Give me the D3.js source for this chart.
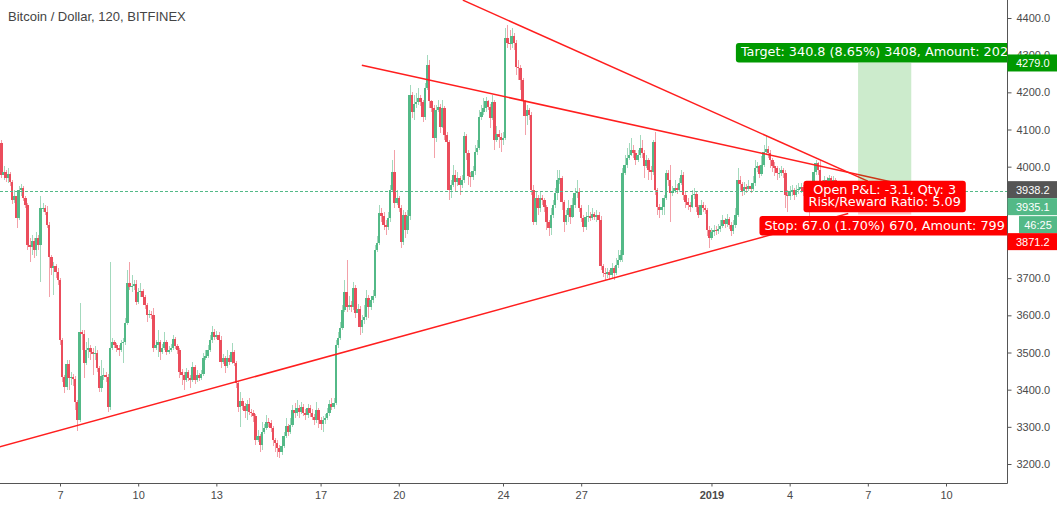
<!DOCTYPE html>
<html>
<head>
<meta charset="utf-8">
<script src="https://cdn.jsdelivr.net/npm/d3@7"></script>
<style>
  body { margin: 0; background: #fff; }
  svg { display: block; }
</style>
</head>
<body>
<div id="chart"></div>
<script>
// 2h candles, BTC/USD Bitfinex, Dec 4 2018 18:00 -> Jan 6 2019 14:00
const firstBar = Date.UTC(2018, 11, 4, 18)
const barMs = 2 * 3600 * 1000
const firstOpen = 4064

const closes = [
  3978,3986,3969,3980,3959,3910,3921,3862,3937,3943,
  3916,3897,3789,3784,3800,3776,3808,3789,3889,3889,
  3878,3843,3757,3727,3733,3717,3695,3534,3434,3407,
  3469,3431,3434,3429,3367,3318,3555,3550,3472,3507,
  3512,3501,3496,3499,3458,3405,3437,3440,3434,3353,
  3512,3528,3520,3512,3507,3525,3528,3579,3687,3676,
  3679,3684,3636,3663,3665,3649,3628,3601,3604,3601,
  3512,3520,3528,3501,3512,3528,3501,3507,3512,3536,
  3518,3507,3448,3440,3426,3448,3431,3426,3461,3426,
  3440,3431,3442,3485,3491,3507,3534,3555,3542,3547,
  3534,3474,3485,3464,3485,3474,3501,3472,3418,3353,
  3370,3356,3343,3361,3340,3337,3329,3265,3275,3251,
  3286,3297,3313,3310,3297,3265,3256,3243,3232,3248,
  3275,3302,3286,3305,3345,3337,3351,3340,3353,3337,
  3332,3351,3337,3326,3318,3345,3318,3308,3318,3324,
  3337,3361,3353,3364,3520,3539,3566,3614,3663,3622,
  3628,3622,3673,3606,3617,3569,3587,3596,3647,3622,
  3641,3652,3776,3795,3875,3867,3843,3838,3862,3937,
  3986,3902,3916,3889,3797,3870,3830,3867,4193,4147,
  4169,4174,4185,4174,4134,4212,4274,4177,4158,4077,
  4152,4161,4107,4158,4085,4066,3937,3951,3978,3959,
  3969,3951,3964,4082,4037,3975,3972,3988,4039,4050,
  4134,4147,4158,4177,4161,4131,4174,4072,4088,4080,
  4072,4077,4346,4333,4330,4352,4333,4268,4265,4233,
  4177,4136,4152,4139,3937,3851,3916,3889,3916,3910,
  3892,3851,3835,3870,3897,3929,3964,3969,3905,3851,
  3870,3889,3865,3897,3929,3932,3889,3862,3838,3865,
  3867,3862,3873,3865,3870,3857,3733,3714,3711,3717,
  3709,3727,3714,3735,3749,3762,3983,4004,4023,4031,
  4045,4037,4018,4031,4050,4037,4002,4018,3991,3986,
  4066,3937,3892,3883,3892,3916,3983,3964,3929,3935,
  3943,3937,3956,3978,3924,3905,3897,3892,3924,3927,
  3892,3870,3897,3889,3883,3830,3808,3824,3830,3827,
  3832,3840,3857,3846,3859,3843,3827,3843,3870,3964,
  3953,3935,3945,3940,3948,3940,3956,3996,4002,3980,
  4004,4039,4048,4037,4018,4002,3996,3983,3983,3991,
  3983,3924,3921,3935,3937,3924,3937,3940,3945,3932,
  3937,3918,3883,3924,3986,4010,3991,3956,3948,3964,
  3959,3969,3956,3964,3948,3937,3910,3924,3902,3921,
  3910,3897,3916,3929,3935.1
]

const highs = [
  4072,4002,3991,3996,3986,3964,3937,3929,3948,3953,
  3948,3921,3902,3808,3816,3808,3824,3816,3921,3902,
  3897,3894,3851,3762,3743,3738,3727,3700,3539,3440,
  3480,3480,3448,3442,3437,3372,3633,3561,3561,3528,
  3539,3520,3512,3518,3507,3464,3480,3458,3448,3442,
  3743,3539,3534,3525,3520,3534,3539,3593,3722,3743,
  3709,3695,3695,3673,3687,3671,3655,3633,3614,3612,
  3620,3534,3561,3534,3523,3555,3534,3518,3523,3547,
  3542,3523,3512,3456,3448,3458,3453,3440,3474,3466,
  3453,3445,3453,3499,3507,3520,3547,3572,3564,3558,
  3555,3544,3496,3491,3507,3493,3525,3507,3477,3423,
  3394,3378,3364,3372,3378,3348,3345,3335,3291,3281,
  3313,3308,3332,3324,3318,3302,3270,3265,3251,3259,
  3286,3324,3308,3324,3359,3364,3372,3359,3367,3361,
  3348,3361,3359,3348,3335,3367,3351,3326,3329,3335,
  3351,3372,3378,3378,3534,3555,3582,3628,3695,3749,
  3652,3639,3690,3682,3630,3625,3601,3628,3668,3655,
  3652,3668,3789,3813,3897,3889,3878,3857,3878,3951,
  4018,4045,3937,3921,3897,3883,3878,3883,4220,4201,
  4193,4198,4212,4193,4179,4225,4300,4287,4179,4166,
  4166,4179,4169,4179,4163,4093,4072,3964,4004,3991,
  3986,3975,3978,4093,4088,4045,3986,4002,4058,4072,
  4152,4166,4185,4187,4179,4169,4193,4179,4109,4099,
  4091,4093,4373,4381,4368,4373,4360,4341,4287,4274,
  4239,4179,4166,4158,4147,3951,3932,3924,3932,3924,
  3916,3897,3857,3889,3910,3943,3991,3991,3975,3910,
  3883,3910,3897,3916,3943,3964,3943,3897,3870,3878,
  3897,3878,3889,3878,3883,3878,3867,3738,3727,3727,
  3722,3741,3733,3754,3776,3776,3996,4031,4050,4064,
  4077,4058,4045,4045,4085,4072,4045,4031,4023,4002,
  4072,4093,3943,3900,3902,3924,3991,3991,4004,3948,
  3964,3953,3969,3991,3986,3932,3916,3905,3937,3943,
  3932,3897,3910,3905,3897,3889,3840,3835,3843,3840,
  3846,3857,3870,3862,3873,3865,3851,3857,3889,3996,
  3975,3959,3959,3953,3964,3953,3975,4018,4012,4004,
  4029,4058,4085,4056,4045,4023,4012,4002,3996,4002,
  3996,3991,3937,3948,3951,3943,3951,3956,3956,3951,
  3948,3943,3927,3937,4002,4018,4012,4018,3964,3975,
  3972,3978,3975,3975,3969,3953,3943,3937,3929,3932,
  3927,3916,3927,3943,3943
]

const lows = [
  3969,3964,3959,3956,3948,3900,3902,3835,3857,3921,
  3908,3889,3776,3743,3762,3754,3760,3776,3690,3878,
  3870,3835,3649,3709,3655,3700,3682,3520,3421,3391,
  3399,3399,3413,3410,3345,3289,3313,3507,3431,3466,
  3485,3480,3440,3480,3448,3394,3394,3426,3421,3340,
  3345,3507,3512,3501,3491,3501,3472,3520,3574,3668,
  3663,3668,3628,3630,3649,3641,3617,3582,3593,3590,
  3501,3507,3488,3480,3496,3507,3493,3496,3501,3507,
  3509,3496,3431,3413,3399,3421,3423,3405,3421,3415,
  3421,3423,3426,3437,3480,3485,3501,3525,3534,3536,
  3525,3458,3469,3445,3458,3466,3469,3464,3405,3340,
  3299,3345,3324,3318,3332,3326,3313,3251,3259,3232,
  3238,3281,3291,3299,3286,3248,3232,3219,3216,3224,
  3243,3270,3275,3281,3299,3324,3329,3324,3335,3329,
  3318,3324,3326,3318,3305,3310,3297,3291,3286,3308,
  3318,3329,3345,3348,3359,3512,3534,3561,3609,3609,
  3614,3609,3614,3593,3598,3547,3552,3577,3587,3593,
  3614,3633,3647,3770,3789,3851,3830,3816,3830,3851,
  3932,3889,3897,3878,3781,3789,3808,3819,3857,4131,
  4126,4158,4166,4163,4120,4126,4206,4158,4147,4023,
  4066,4147,4091,4104,4072,4050,3910,3916,3945,3932,
  3948,3924,3943,3956,4018,3951,3945,3964,3978,4031,
  4045,4126,4139,4147,4152,4104,4126,4045,4066,4050,
  4039,4058,4072,4319,4314,4319,4314,4247,4233,4206,
  4152,4085,4113,4126,3924,3843,3843,3870,3878,3897,
  3878,3830,3813,3816,3862,3889,3910,3953,3883,3824,
  3843,3851,3846,3862,3889,3916,3878,3851,3824,3830,
  3851,3854,3857,3857,3851,3843,3722,3703,3695,3700,
  3695,3700,3695,3709,3727,3743,3743,3978,3996,4018,
  4029,4023,4004,4012,4023,4023,3969,3996,3964,3964,
  3978,3924,3870,3862,3870,3870,3910,3948,3851,3921,
  3929,3927,3932,3951,3910,3889,3883,3878,3889,3913,
  3878,3862,3870,3878,3873,3813,3781,3803,3813,3816,
  3819,3824,3835,3835,3838,3832,3813,3819,3835,3865,
  3937,3921,3924,3929,3935,3929,3935,3948,3986,3969,
  3975,3999,4031,4023,3996,3986,3975,3964,3969,3975,
  3969,3889,3878,3910,3921,3910,3918,3927,3929,3921,
  3921,3905,3857,3878,3916,3978,3978,3948,3937,3943,
  3948,3951,3945,3948,3937,3921,3897,3897,3894,3897,
  3900,3889,3892,3910,3910
]

const priceTicks = [3200, 3300, 3400, 3500, 3600, 3700, 3800, 3900, 4000, 4100, 4200, 4300, 4400]
const dayTicks = [
  Date.UTC(2018, 11, 7), Date.UTC(2018, 11, 10), Date.UTC(2018, 11, 13), Date.UTC(2018, 11, 17),
  Date.UTC(2018, 11, 20), Date.UTC(2018, 11, 24), Date.UTC(2018, 11, 27), Date.UTC(2019, 0, 1),
  Date.UTC(2019, 0, 4), Date.UTC(2019, 0, 7), Date.UTC(2019, 0, 10)
].map(t => new Date(t))

// long position tool
const entry = 3938.2
const target = 4279.0
const stop = 3871.2
const positionFrom = Date.UTC(2019, 0, 6, 15)
const positionTo = Date.UTC(2019, 0, 8, 16)
const targetText = ["Target: 340.8 (8.65%) 3408, Amount: 2024.1"]
const pnlText = ["Open P&L: -3.1, Qty: 3", "Risk/Reward Ratio: 5.09"]
const stopText = ["Stop: 67.0 (1.70%) 670, Amount: 799"]
const countdown = "46:25"

// hand drawn trend lines [time, price]
const trendLines = [
  [[Date.UTC(2018, 11, 4, 16), 3246], [Date.UTC(2019, 0, 6, 6), 3874]],
  [[Date.UTC(2018, 11, 18, 14), 4273], [Date.UTC(2019, 0, 7, 22), 3959]],
  [[Date.UTC(2018, 11, 22, 11), 4448], [Date.UTC(2019, 0, 7, 0), 3961]]
]

const UP = "#53b987", DOWN = "#eb4d5c"
const UP_WICK = "#a3d9bd", DOWN_WICK = "#f3a1a9"
const W = 1059, H = 508
const plotW = 1007, plotH = 483

const svg = d3.select("#chart").append("svg").attr("width", W).attr("height", H)
svg.append("rect").attr("width", W).attr("height", H).attr("fill", "#fff")

const x = d3.scaleUtc().domain([Date.UTC(2018, 11, 7), Date.UTC(2019, 0, 10)]).range([60, 946])
const y = d3.scaleLinear().domain([3200, 4400]).range([464, 18])

const bars = closes.map(function (c, i) {
  const o = i ? closes[i - 1] : firstOpen
  return { t: firstBar + i * barMs, o: o, c: c, h: Math.max(highs[i], o, c), l: Math.min(lows[i], o, c) }
})
const last = closes[closes.length - 1]

svg.append("clipPath").attr("id", "plotclip").append("rect").attr("width", plotW).attr("height", plotH)
const plot = svg.append("g").attr("clip-path", "url(#plotclip)")

// candles
const cg = plot.append("g").attr("shape-rendering", "crispEdges")
cg.selectAll(".wick").data(bars).join("rect")
  .attr("x", d => Math.round(x(d.t)) - 0.5)
  .attr("width", 1)
  .attr("y", d => y(d.h))
  .attr("height", d => Math.max(1, y(d.l) - y(d.h)))
  .attr("fill", d => d.c >= d.o ? UP_WICK : DOWN_WICK)
cg.selectAll(".body").data(bars).join("rect")
  .attr("x", d => Math.round(x(d.t) - 1.25))
  .attr("width", d => Math.round(x(d.t) + 1.25) - Math.round(x(d.t) - 1.25))
  .attr("y", d => y(Math.max(d.o, d.c)))
  .attr("height", d => Math.max(1, Math.abs(y(d.o) - y(d.c))))
  .attr("fill", d => d.c >= d.o ? UP : DOWN)

// last price line
plot.append("line")
  .attr("x1", 0).attr("x2", plotW)
  .attr("y1", Math.round(y(last)) + 0.5).attr("y2", Math.round(y(last)) + 0.5)
  .attr("stroke", UP).attr("stroke-dasharray", "3,2")

// trend lines
plot.selectAll(".trend").data(trendLines).join("line")
  .attr("x1", d => x(d[0][0])).attr("y1", d => y(d[0][1]))
  .attr("x2", d => x(d[1][0])).attr("y2", d => y(d[1][1]))
  .attr("stroke", "#ff1e1e").attr("stroke-width", 1.5)

// position zones
const px0 = x(positionFrom), px1 = x(positionTo)
plot.append("rect").attr("x", px0).attr("width", px1 - px0)
  .attr("y", y(target)).attr("height", y(entry) - y(target)).attr("fill", "rgba(0,153,0,0.2)")
plot.append("rect").attr("x", px0).attr("width", px1 - px0)
  .attr("y", y(entry)).attr("height", y(stop) - y(entry)).attr("fill", "rgba(255,0,0,0.2)")

function tag(lines, top, fill) {
  const g = plot.append("g")
  const r = g.append("rect").attr("fill", fill).attr("rx", 3)
  const cx = (px0 + px1) / 2
  let w = 0
  lines.forEach(function (s, k) {
    const t = g.append("text").attr("x", cx).attr("y", top + 13.5 + k * 12)
      .attr("text-anchor", "middle").attr("fill", "#fff")
      .attr("font-family", "DejaVu Sans, Verdana, sans-serif").attr("font-size", 12.8)
      .text(s)
    w = Math.max(w, t.node().getComputedTextLength())
  })
  w += 10
  r.attr("x", cx - w / 2).attr("y", top).attr("width", w).attr("height", 7.5 + 12 * lines.length)
}
tag(targetText, y(target) - 20, "#009900")
tag(pnlText, y(entry) - 9, "#ff0000")
tag(stopText, y(stop) + 1.5, "#ff0000")

// axes
const axisColor = "#555"
svg.append("line").attr("x1", plotW + 0.5).attr("x2", plotW + 0.5).attr("y1", 0).attr("y2", plotH + 0.5)
  .attr("stroke", axisColor)
svg.append("line").attr("x1", 0).attr("x2", plotW + 0.5).attr("y1", plotH + 0.5).attr("y2", plotH + 0.5)
  .attr("stroke", axisColor)

const isNewYear = d => d.getUTCMonth() === 0 && d.getUTCDate() === 1

const yAxis = svg.append("g").attr("transform", "translate(" + (plotW + 0.5) + ",0)")
  .call(d3.axisRight(y).tickValues(priceTicks).tickFormat(d3.format(".1f")).tickSize(4).tickPadding(5))
yAxis.select(".domain").remove()
yAxis.selectAll("line").attr("stroke", axisColor)
yAxis.selectAll("text").attr("fill", "#4a4a4a").attr("font-size", 11).attr("font-family", "Liberation Sans, Arial, sans-serif")

const xAxis = svg.append("g").attr("transform", "translate(0," + (plotH + 0.5) + ")")
  .call(d3.axisBottom(x).tickValues(dayTicks).tickSize(3).tickPadding(5)
    .tickFormat(d => isNewYear(d) ? "2019" : d.getUTCDate()))
xAxis.select(".domain").remove()
xAxis.selectAll("line").attr("stroke", axisColor)
xAxis.selectAll("text").attr("fill", "#4a4a4a").attr("font-size", 11).attr("font-family", "Liberation Sans, Arial, sans-serif")
  .attr("font-weight", d => isNewYear(d) ? "bold" : "normal")

// price tags on the scale
const fmt = d3.format(".1f")
const tags = [
  { text: fmt(target), fill: "#009900", cy: y(target), x0: plotW + 0.5 },
  { text: fmt(entry), fill: "#555555", cy: y(entry), x0: plotW + 0.5 },
  { text: fmt(last), fill: UP, cy: y(entry) + 17, x0: plotW + 0.5 },
  { text: countdown, fill: UP, cy: y(entry) + 35, x0: 1019 },
  { text: fmt(stop), fill: "#ff0000", cy: y(entry) + 52, x0: plotW + 0.5 }
]
const tg = svg.append("g")
tg.selectAll("rect").data(tags).join("rect")
  .attr("x", d => d.x0).attr("width", d => 1057 - d.x0)
  .attr("y", d => d.cy - 8.5).attr("height", 17)
  .attr("fill", d => d.fill)
tg.selectAll("text").data(tags).join("text")
  .attr("x", d => d.x0 < 1010 ? 1016 : (d.x0 + 1057) / 2)
  .attr("text-anchor", d => d.x0 < 1010 ? "start" : "middle")
  .attr("y", d => d.cy + 4)
  .attr("fill", "#fff").attr("font-size", 11).attr("font-family", "Liberation Sans, Arial, sans-serif")
  .text(d => d.text)

// title
svg.append("text").attr("x", 8).attr("y", 21)
  .attr("font-family", "Liberation Sans, Arial, sans-serif").attr("font-size", 13)
  .attr("fill", "#444")
  .text("Bitcoin / Dollar, 120, BITFINEX")
</script>
</body>
</html>
